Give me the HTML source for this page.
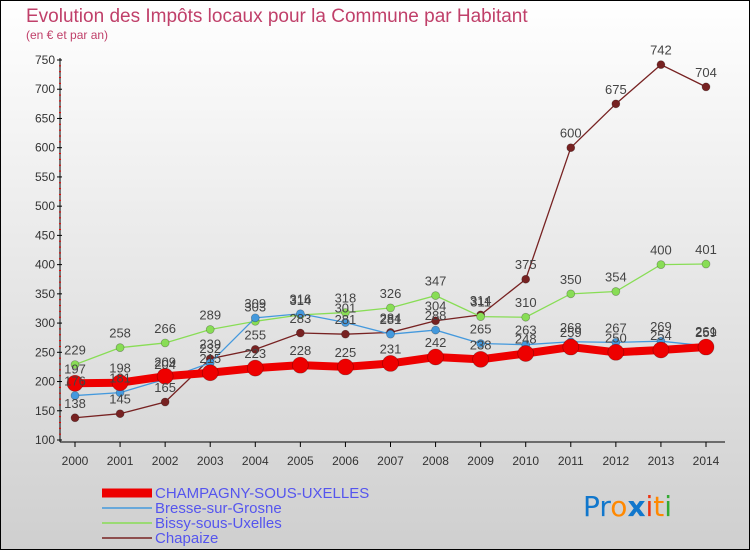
<!DOCTYPE html>
<html><head><meta charset="utf-8">
<style>
body{margin:0;padding:0;}
#wrap{width:750px;height:550px;position:relative;overflow:hidden;font-family:"Liberation Sans",sans-serif;}
</style></head>
<body>
<div id="wrap">
<svg id="chart" width="750" height="550" xmlns="http://www.w3.org/2000/svg">
<defs>
<linearGradient id="bg" x1="0" y1="0" x2="0" y2="1">
<stop offset="0" stop-color="#ffffff"/><stop offset="1" stop-color="#cfcfcf"/>
</linearGradient>
</defs>
<rect x="0.5" y="0.5" width="749" height="549" fill="url(#bg)" stroke="#000"/>
<text x="26" y="22" font-size="19" fill="#c0406a">Evolution des Impôts locaux pour la Commune par Habitant</text>
<text x="26" y="39" font-size="12" fill="#c0406a">(en € et par an)</text>
<g id="axes"></g>
<g id="series"></g>
<g id="labels"></g>
<g>
<line x1="102" y1="493" x2="152" y2="493" stroke="#ee0000" stroke-width="9"/>
<text x="155" y="498" font-size="15" fill="#5555ee">CHAMPAGNY-SOUS-UXELLES</text>
<line x1="102" y1="508" x2="152" y2="508" stroke="#4499dd" stroke-width="1.5"/>
<text x="155" y="513" font-size="15" fill="#5555ee">Bresse-sur-Grosne</text>
<line x1="102" y1="523" x2="152" y2="523" stroke="#88dd55" stroke-width="1.5"/>
<text x="155" y="528" font-size="15" fill="#5555ee">Bissy-sous-Uxelles</text>
<line x1="102" y1="538" x2="152" y2="538" stroke="#772222" stroke-width="1.5"/>
<text x="155" y="543" font-size="15" fill="#5555ee">Chapaize</text>
</g>
<g font-size="28" font-family="'DejaVu Sans',sans-serif">
<text x="583" y="516"><tspan fill="#1177cc">Pr</tspan><tspan fill="#ff8800">o</tspan><tspan fill="#1177cc" font-weight="bold">x</tspan><tspan fill="#ee3311">i</tspan><tspan fill="#ff8800">t</tspan><tspan fill="#33aa33">i</tspan></text>
</g>
</svg>
</div>
<script>
const years=["2000","2001","2002","2003","2004","2005","2006","2007","2008","2009","2010","2011","2012","2013","2014"];
const yTicks=[100,150,200,250,300,350,400,450,500,550,600,650,700,750];
const champagny=[197,198,209,215,223,228,225,231,242,238,248,259,250,254,259];
const bresse=[176,181,204,232,309,316,301,281,288,265,263,268,267,269,261];
const bissy=[229,258,266,289,303,314,318,326,347,311,310,350,354,400,401];
const chapaize=[138,145,165,239,255,283,281,284,304,314,375,600,675,742,704];
const NS="http://www.w3.org/2000/svg";
function xs(i){return 75+i*(706-75)/14;}
function ys(v){return 440-(v-100)*(380/650);}
function mk(tag,attrs,parent){const e=document.createElementNS(NS,tag);for(const k in attrs)e.setAttribute(k,attrs[k]);parent.appendChild(e);return e;}
const axes=document.getElementById('axes'),ser=document.getElementById('series'),lab=document.getElementById('labels');
let ax=mk('line',{x1:60,y1:58,x2:60,y2:442,stroke:'#000'},axes);


let bx=mk('line',{x1:60,y1:442,x2:725,y2:442,stroke:'#000'},axes);


yTicks.forEach((v,i)=>{
  const y=ys(v);
  mk('line',{x1:57,y1:y,x2:62,y2:y,stroke:'#000'},axes);
  if(i<yTicks.length-1){for(let k=1;k<5;k++){const yy=ys(v+k*10);mk('line',{x1:59,y1:yy,x2:61,y2:yy,stroke:'#e00'},axes);}}
  const t=mk('text',{x:55,y:y+4,'font-size':12,'text-anchor':'end',fill:'#333'},axes);
  t.textContent=v;
  
  
});
years.forEach((yr,i)=>{
  const x=xs(i);
  mk('line',{x1:x,y1:442,x2:x,y2:447,stroke:'#000'},axes);
  const t=mk('text',{x:x,y:465,'font-size':12,'text-anchor':'middle',fill:'#333'},axes);
  t.textContent=yr;
  
  
});
function draw(data,color,w,r,name){
  const g=mk('g',{},ser);
  
  
  const pts=data.map((v,i)=>xs(i)+','+ys(v)).join(' ');
  mk('polyline',{points:pts,fill:'none',stroke:color,'stroke-width':w},g);
  data.forEach((v,i)=>{
    const c=mk('circle',{cx:xs(i),cy:ys(v),r:r,fill:color,stroke:'rgba(0,0,0,0.3)','stroke-width':0.7},g);
    
    
    const t=mk('text',{x:xs(i),y:ys(v)-10,'font-size':13,'text-anchor':'middle',fill:'#444'},lab);
    t.textContent=v;
    
    
  });
}
draw(chapaize,'#772222',1.3,4,'chapaize');
draw(bissy,'#88dd55',1.3,4,'bissy');
draw(bresse,'#4499dd',1.3,4,'bresse');
draw(champagny,'#ee0000',8,8,'champagny');
</script>
</body></html>
